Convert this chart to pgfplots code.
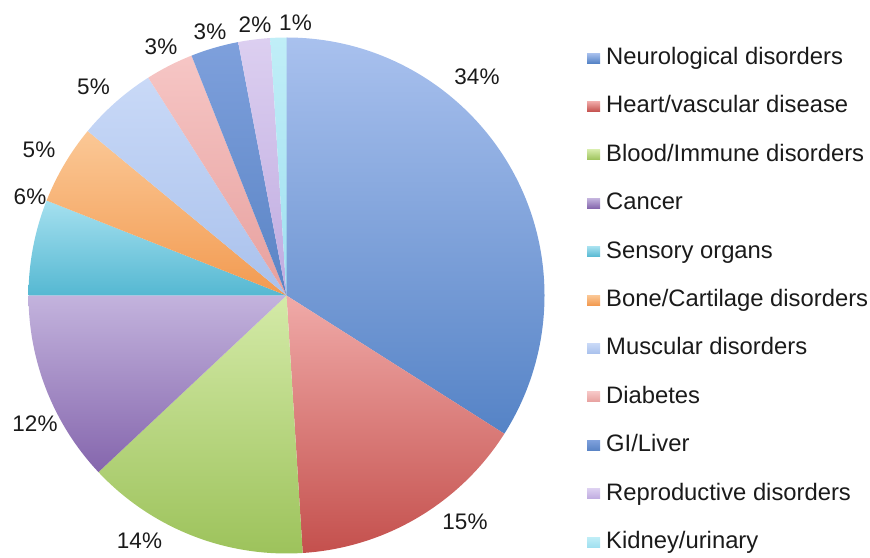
\documentclass[border=0pt]{standalone}
\usepackage{pgfplots}
\pgfplotsset{compat=1.18}
\usepackage{fontspec}
\setmainfont{Liberation Sans}
\definecolor{bluT}{HTML}{A9C1EE}\definecolor{bluB}{HTML}{5583C6}
\definecolor{redT}{HTML}{F0AAA8}\definecolor{redB}{HTML}{C4504D}
\definecolor{grnT}{HTML}{D4EAA8}\definecolor{grnB}{HTML}{9CC25A}
\definecolor{purT}{HTML}{C3B3DD}\definecolor{purB}{HTML}{8566AD}
\definecolor{aquT}{HTML}{A5E0EF}\definecolor{aquB}{HTML}{55B8D2}
\definecolor{oraT}{HTML}{FBC896}\definecolor{oraB}{HTML}{F29A50}
\definecolor{musT}{HTML}{C9D9F7}\definecolor{musB}{HTML}{A9C1EC}
\definecolor{diaT}{HTML}{F6C6C5}\definecolor{diaB}{HTML}{E7A09E}
\definecolor{gilT}{HTML}{7EA0DC}\definecolor{gilB}{HTML}{5A84C5}
\definecolor{repT}{HTML}{DCCFF0}\definecolor{repB}{HTML}{BFABE0}
\definecolor{kidT}{HTML}{C0EEF7}\definecolor{kidB}{HTML}{A0E0F0}
\definecolor{txt}{HTML}{1A1A1A}
\begin{document}
\begin{tikzpicture}
\begin{axis}[x=1pt,y=1pt,xmin=0,xmax=870,ymin=0,ymax=554,
  hide axis, clip=false, scale only axis,
  legend image code/.code={\shade[#1,draw=none] (0pt,-4.5pt) rectangle (13pt,5.5pt);},
  legend cell align=left,
  legend style={at={(axis cs:587,506.5)}, anchor=north west, draw=none, fill=none,
    inner sep=0pt, row sep=26.6pt, column sep=6pt, text=txt,
    font=\fontsize{23.8}{28}\selectfont,
    nodes={inner sep=0pt, text height=16.8pt, text depth=5pt}},
]
\addlegendimage{top color=bluT,bottom color=bluB}
\addlegendimage{top color=redT,bottom color=redB}
\addlegendimage{top color=grnT,bottom color=grnB}
\addlegendimage{top color=purT,bottom color=purB}
\addlegendimage{top color=aquT,bottom color=aquB}
\addlegendimage{top color=oraT,bottom color=oraB}
\addlegendimage{top color=musT,bottom color=musB}
\addlegendimage{top color=diaT,bottom color=diaB}
\addlegendimage{top color=gilT,bottom color=gilB}
\addlegendimage{top color=repT,bottom color=repB}
\addlegendimage{top color=kidT,bottom color=kidB}
\legend{Neurological disorders,Heart/vascular disease,Blood/Immune disorders,Cancer,Sensory organs,Bone/Cartilage disorders,Muscular disorders,Diabetes,GI/Liver,Reproductive disorders,Kidney/urinary}
\pgfplotsextra{
  \def\cx{286.5}\def\cy{258.5}\def\R{258}
  \foreach \v/\ct/\cb [remember=\b as \a (initially 90)] in
    {34/bluT/bluB, 15/redT/redB, 14/grnT/grnB, 12/purT/purB, 6/aquT/aquB,
     5/oraT/oraB, 5/musT/musB, 3/diaT/diaB, 3/gilT/gilB, 2/repT/repB, 1/kidT/kidB}{
    \pgfmathsetmacro\b{\a-3.6*\v}
    \shade[top color=\ct, bottom color=\cb]
      (axis cs:\cx,\cy) -- (axis cs:{\cx+\R*cos(\a)},{\cy+\R*sin(\a)})
      arc[start angle=\a, end angle=\b, radius=258pt] -- cycle;
  }
  \begin{scope}[every node/.style={text=txt, font=\fontsize{22.5}{27}\selectfont, inner sep=0pt}]
  \node at (axis cs:477,477) {34\%};
  \node at (axis cs:465,32) {15\%};
  \node at (axis cs:139.5,13) {14\%};
  \node at (axis cs:35,130) {12\%};
  \node at (axis cs:30,357.5) {6\%};
  \node at (axis cs:39,404.5) {5\%};
  \node at (axis cs:93.5,467.5) {5\%};
  \node at (axis cs:161,507.5) {3\%};
  \node at (axis cs:210,522.5) {3\%};
  \node at (axis cs:255,529.5) {2\%};
  \node at (axis cs:295.5,531) {1\%};
  \end{scope}
  \path (axis cs:0,0) rectangle (axis cs:870,554);
}
\end{axis}
\end{tikzpicture}
\end{document}
